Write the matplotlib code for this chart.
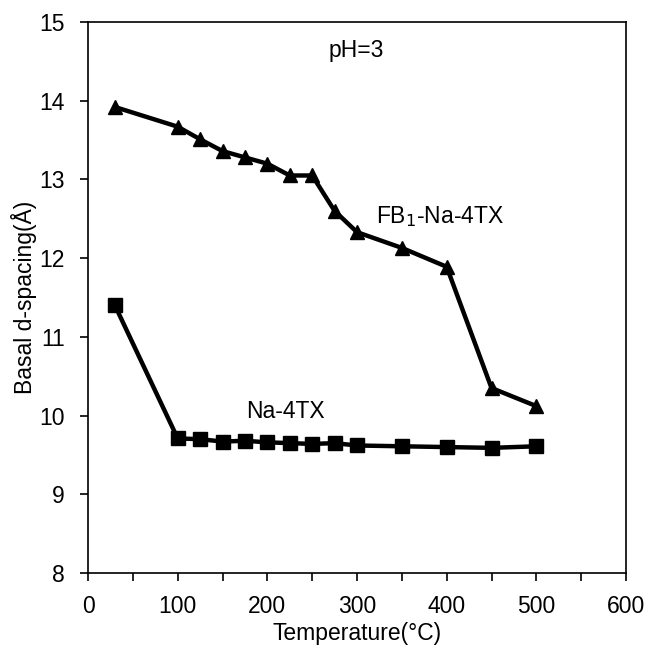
import matplotlib
matplotlib.use('Agg')
import matplotlib.pyplot as plt

plt.rcParams['font.family'] = ['Liberation Sans', 'DejaVu Sans']

temps_fb = [30, 100, 125, 150, 175, 200, 225, 250, 275, 300, 350, 400, 450, 500]
d_fb = [13.92, 13.67, 13.51, 13.36, 13.28, 13.20, 13.05, 13.05, 12.60, 12.33, 12.13, 11.89, 10.35, 10.12]

temps_na = [30, 100, 125, 150, 175, 200, 225, 250, 275, 300, 350, 400, 450, 500]
d_na = [11.40, 9.71, 9.70, 9.67, 9.68, 9.66, 9.65, 9.64, 9.65, 9.62, 9.61, 9.60, 9.59, 9.61]

x_ticks = [0, 100, 200, 300, 400, 500, 600]
y_ticks = [8, 9, 10, 11, 12, 13, 14, 15]

fig = plt.figure(figsize=(6.49, 6.45), dpi=100)
ax = fig.add_axes([0.1356, 0.1116, 0.829, 0.8543])

ax.plot(temps_fb, d_fb, color='black', linewidth=3.2, marker='^', markersize=10.5)
ax.plot(temps_na, d_na, color='black', linewidth=3.2, marker='s', markersize=10)

ax.set_xlim(0, 600)
ax.set_ylim(8, 15)
ax.set_xticks(x_ticks)
ax.set_xticks(range(50, 600, 100), minor=True)
ax.set_yticks(y_ticks)
ax.tick_params(axis='both', which='both', direction='out', length=6, width=1.2,
               labelsize=16.5, top=False, right=False)
ax.tick_params(axis='x', which='major', pad=9.5)
ax.tick_params(axis='y', which='major', pad=10.5)
for s in ax.spines.values():
    s.set_linewidth(1.2)

ax.set_xlabel('Temperature(°C)', fontsize=16.5, labelpad=3)
ax.set_ylabel('Basal d-spacing(Å)', fontsize=16.5, labelpad=2)

ax.text(299, 14.56, 'pH=3', fontsize=16.5, ha='center', va='baseline')
ax.text(393, 12.44, 'FB$_1$-Na-4TX', fontsize=16.5, ha='center', va='baseline')
ax.text(220, 9.97, 'Na-4TX', fontsize=16.5, ha='center', va='baseline')

fig.savefig('out.png', dpi=100)
